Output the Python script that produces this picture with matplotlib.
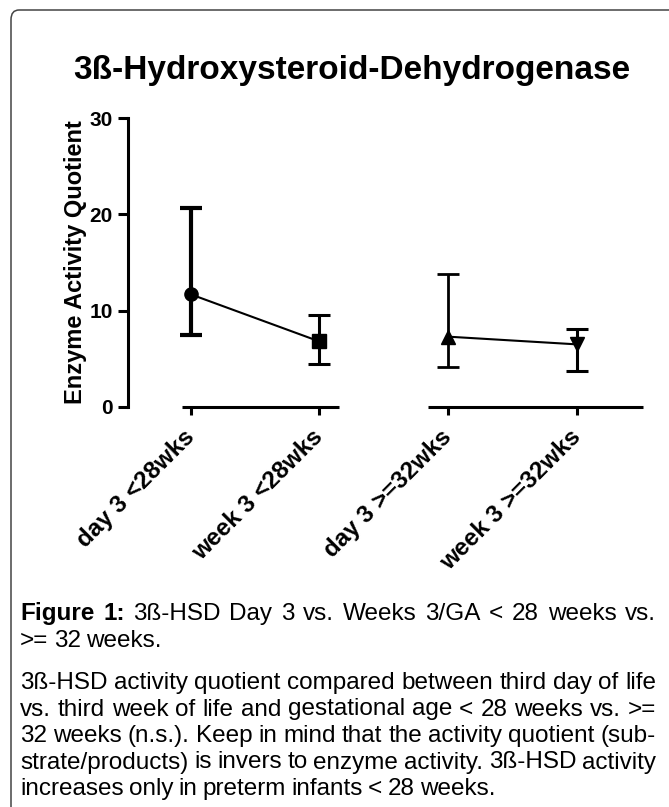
import matplotlib
matplotlib.use('Agg')
import matplotlib.pyplot as plt
from matplotlib.patches import FancyBboxPatch

plt.rcParams['font.family'] = ['Liberation Sans', 'DejaVu Sans']

# values
groups = ['day 3 <28wks', 'week 3 <28wks', 'day 3 >=32wks', 'week 3 >=32wks']
means = [11.7, 6.8, 7.3, 6.5]
lower = [7.5, 4.5, 4.2, 3.7]
upper = [20.7, 9.5, 13.8, 8.1]
markers = ['o', 's', '^', 'v']
bar_widths = [3.0, 2.2, 2.0, 2.2]
yticks = [0, 10, 20, 30]

title = '3ß-Hydroxysteroid-Dehydrogenase'
ylabel = 'Enzyme Activity Quotient'
caption_head = ['Figure 1:', '3ß-HSD Day 3 vs. Weeks 3/GA < 28 weeks vs.', '>= 32 weeks.']
caption_body = ['3ß-HSD activity quotient compared between third day of life',
                'vs. third week of life and gestational age < 28 weeks vs. >=',
                '32 weeks (n.s.). Keep in mind that the activity quotient (sub-',
                'strate/products) is invers to enzyme activity. 3ß-HSD activity',
                'increases only in preterm infants < 28 weeks.']

W, H = 669, 807
fig = plt.figure(figsize=(W/100, H/100), dpi=100)

def fx(px):
	return px/W
def fy(py):
	return 1-py/H

# frame round the figure (only top and left show)
box = FancyBboxPatch((fx(11), fy(850)), fx(720), fy(10)-fy(850), boxstyle='round,pad=0,rounding_size=0.012',
		transform=fig.transFigure, fill=False, edgecolor='#444444', linewidth=1.1)
fig.patches.append(box)

ax = fig.add_axes([fx(127.5), fy(407), fx(643)-fx(127.5), fy(118)-fy(407)])
ax.set_xlim(-0.49, 3.511)
ax.set_ylim(0, 30)

xs = list(range(len(groups)))
# connecting lines within each GA group
ax.plot(xs[0:2], means[0:2], color='black', lw=1.5, zorder=2)
ax.plot(xs[2:4], means[2:4], color='black', lw=1.5, zorder=2)
for i in xs:
	ax.errorbar(xs[i], means[i], yerr=[[means[i]-lower[i]], [upper[i]-means[i]]], fmt=markers[i],
			color='black', ms=9.5, elinewidth=bar_widths[i], capsize=8, capthick=bar_widths[i],
			clip_on=False, zorder=3)

for s in ['top', 'right', 'bottom']:
	ax.spines[s].set_visible(False)
ax.spines['left'].set_linewidth(2.2)
# broken x axis, one piece per GA group
ax.plot([xs[0]-0.068, xs[1]+0.151], [0, 0], color='black', lw=2.2, clip_on=False, solid_capstyle='butt')
ax.plot([xs[2]-0.158, xs[3]+0.511], [0, 0], color='black', lw=2.2, clip_on=False, solid_capstyle='butt')

ax.set_yticks(yticks)
ax.set_yticklabels([str(v) for v in yticks], fontsize=15, fontweight='bold')
ax.tick_params(axis='y', length=7.5, width=2.2, pad=3)
ax.set_xticks(xs)
ax.set_xticklabels(groups, rotation=45, ha='right', va='center', rotation_mode='anchor',
		fontsize=17.5, fontweight='bold')
ax.tick_params(axis='x', length=6, width=2.2, pad=13)
ax.set_ylabel(ylabel, fontsize=17, fontweight='bold', labelpad=2)
ax.patch.set_visible(False)

fig.text(fx(352), fy(70), title, fontsize=24, fontweight='bold', ha='center', va='center')

# justified caption lines
renderer = fig.canvas.get_renderer()
def put_line(parts, x0, x1, y, justify):
	texts = []
	for word, weight in parts:
		t = fig.text(fx(x0), fy(y), word, fontsize=17.5, fontweight=weight, va='baseline', ha='left')
		texts.append(t)
	widths = [t.get_window_extent(renderer).width for t in texts]
	space = texts[0].get_window_extent(renderer).height*0.24
	if justify and len(texts) > 1:
		gap = (x1-x0-sum(widths))/(len(texts)-1)
	else:
		gap = space
	x = x0
	for t, w in zip(texts, widths):
		t.set_x(fx(x))
		x += w+gap

left, right = 20, 656
head_words = [(w, 'bold') for w in caption_head[0].split()] + [(w, 'normal') for w in caption_head[1].split()]
put_line(head_words, left, right, 620, True)
put_line([(w, 'normal') for w in caption_head[2].split()], left, right, 647, False)
y = 689
for k, line in enumerate(caption_body):
	put_line([(w, 'normal') for w in line.split()], left, right, y, k < len(caption_body)-1)
	y += 26.5

fig.savefig('out.png', dpi=100)
